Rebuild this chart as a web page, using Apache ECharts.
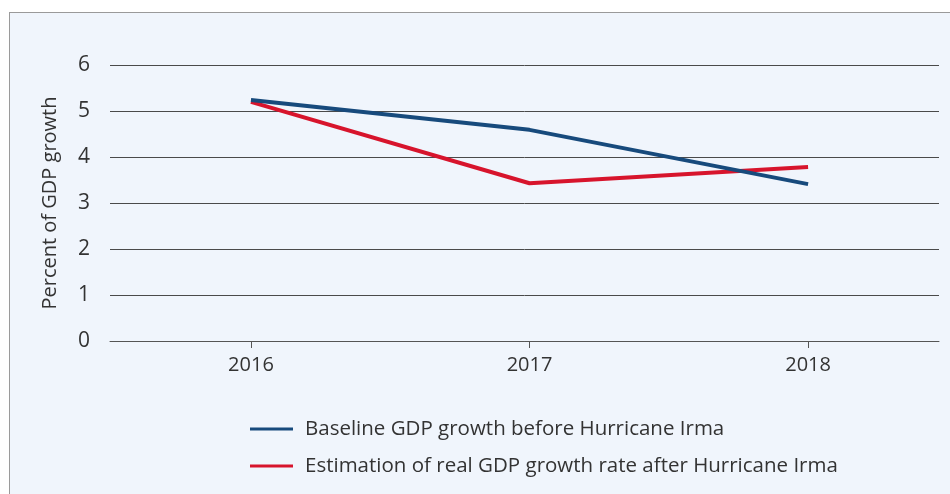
<!DOCTYPE html>
<html><head><meta charset="utf-8">
<script src="https://cdn.jsdelivr.net/npm/echarts@6/dist/echarts.min.js"></script>
<style>
html,body{margin:0;padding:0;background:#fff;width:950px;height:494px;overflow:hidden;}
#frame{position:absolute;left:9px;top:12px;width:1000px;height:1000px;border:1px solid #9a9a9a;background:#f0f5fc;box-sizing:border-box;}
#chart{position:absolute;left:0;top:0;width:950px;height:494px;}
</style></head>
<body>
<div id="frame"></div>
<div id="chart"></div>
<script>
const years = [2016, 2017, 2018];
const baseline = [5.24, 4.59, 3.41];
const estimation = [5.2, 3.43, 3.78];
const yTicks = [0, 1, 2, 3, 4, 5, 6];
const seriesNames = ['Baseline GDP growth before Hurricane Irma', 'Estimation of real GDP growth rate after Hurricane Irma'];
const yName = 'Percent of GDP growth';

const font = 'Open Sans';
const chart = echarts.init(document.getElementById('chart'), null, {renderer: 'canvas'});
chart.setOption({
  backgroundColor: 'transparent',
  animation: false,
  textStyle: {fontFamily: font},
  grid: {left: 110, right: 11, top: 65, bottom: 153, containLabel: false},
  legend: {
    orient: 'vertical', left: 250, top: 417, itemWidth: 43, itemHeight: 3, itemGap: 13, padding: 0,
    icon: 'rect',
    textStyle: {fontFamily: font, fontSize: 20.5, color: '#333', padding: [0, 0, 0, 7], lineHeight: 24},
    data: seriesNames
  },
  xAxis: {
    type: 'value', min: 2015.494, max: 2018.47,
    splitLine: {show: false},
    axisLine: {show: true, lineStyle: {color: '#555', width: 1}},
    axisTick: {show: true, customValues: years, length: 7, lineStyle: {color: '#555'}},
    axisLabel: {customValues: years, fontSize: 20, color: '#333', margin: 14, formatter: v => String(v)}
  },
  yAxis: {
    type: 'value', min: 0, max: 6, interval: 1,
    name: yName, nameLocation: 'middle', nameGap: 50, nameRotate: 90,
    nameTextStyle: {fontSize: 20, color: '#333', fontFamily: font},
    axisLine: {show: false}, axisTick: {show: false},
    axisLabel: {fontSize: 21, color: '#333', margin: 20, formatter: v => yTicks.includes(v) ? String(v) : ''},
    splitLine: {lineStyle: {color: '#4a4a4a', width: 1}}
  },
  series: [
    {name: seriesNames[0], type: 'line', data: years.map((y, i) => [y, baseline[i]]), symbol: 'none',
     lineStyle: {color: '#174a7c', width: 4}, itemStyle: {color: '#174a7c'}, z: 3},
    {name: seriesNames[1], type: 'line', data: years.map((y, i) => [y, estimation[i]]), symbol: 'none',
     lineStyle: {color: '#d7142c', width: 4}, itemStyle: {color: '#d7142c'}, z: 2}
  ]
});
</script>
</body></html>
